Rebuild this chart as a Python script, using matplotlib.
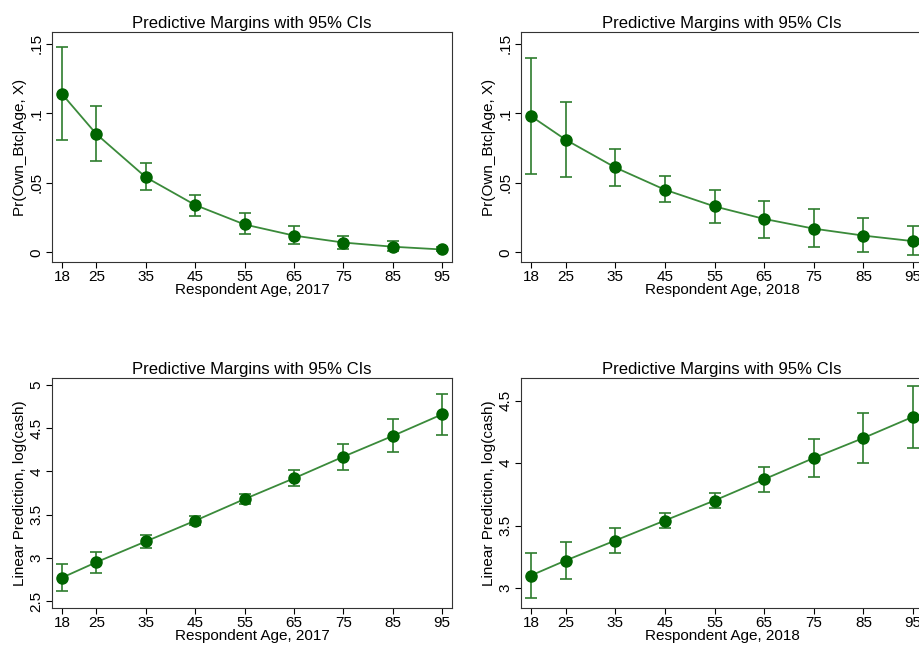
import matplotlib
matplotlib.use("Agg")
import matplotlib.pyplot as plt

plt.rcParams['font.family'] = ['Liberation Sans', 'DejaVu Sans']

ages = [18, 25, 35, 45, 55, 65, 75, 85, 95]
btc17 = [0.114, 0.085, 0.054, 0.034, 0.020, 0.012, 0.007, 0.004, 0.002]
btc17_lo = [0.081, 0.066, 0.045, 0.026, 0.013, 0.006, 0.002, 0.001, 0.001]
btc17_hi = [0.148, 0.105, 0.064, 0.041, 0.028, 0.019, 0.012, 0.008, 0.004]
btc18 = [0.098, 0.081, 0.061, 0.045, 0.033, 0.024, 0.017, 0.012, 0.008]
btc18_lo = [0.056, 0.054, 0.048, 0.036, 0.021, 0.010, 0.004, 0.000, -0.002]
btc18_hi = [0.140, 0.108, 0.074, 0.055, 0.045, 0.037, 0.031, 0.025, 0.019]
cash17 = [2.77, 2.95, 3.19, 3.43, 3.68, 3.92, 4.17, 4.41, 4.66]
cash17_lo = [2.62, 2.83, 3.11, 3.38, 3.62, 3.83, 4.02, 4.22, 4.42]
cash17_hi = [2.93, 3.07, 3.27, 3.48, 3.74, 4.02, 4.32, 4.61, 4.90]
cash18 = [3.10, 3.22, 3.38, 3.54, 3.70, 3.87, 4.04, 4.20, 4.37]
cash18_lo = [2.92, 3.07, 3.28, 3.48, 3.64, 3.77, 3.89, 4.00, 4.12]
cash18_hi = [3.28, 3.37, 3.48, 3.60, 3.76, 3.97, 4.19, 4.40, 4.62]

W, H = 920, 649
fig = plt.figure(figsize=(W/100, H/100), dpi=100)
fig.patch.set_facecolor('white')

def ax_at(l, t, r, b):
    return fig.add_axes([l/W, 1-b/H, (r-l)/W, (b-t)/H])

line_c = '#3a8a3a'
dot_c = '#006400'
err_c = '#2e7d2e'

panels = [
    ((52, 32, 452, 262), btc17, btc17_lo, btc17_hi, (-0.007, 0.1585), [0, 0.05, 0.1, 0.15], ['0', '.05', '.1', '.15'], 'Pr(Own_Btc|Age, X)', 'Respondent Age, 2017'),
    ((521, 32, 923, 262), btc18, btc18_lo, btc18_hi, (-0.007, 0.1585), [0, 0.05, 0.1, 0.15], ['0', '.05', '.1', '.15'], 'Pr(Own_Btc|Age, X)', 'Respondent Age, 2018'),
    ((52, 378, 452, 608), cash17, cash17_lo, cash17_hi, (2.42, 5.08), [2.5, 3, 3.5, 4, 4.5, 5], ['2.5', '3', '3.5', '4', '4.5', '5'], 'Linear Prediction, log(cash)', 'Respondent Age, 2017'),
    ((521, 378, 923, 608), cash18, cash18_lo, cash18_hi, (2.84, 4.68), [3, 3.5, 4, 4.5], ['3', '3.5', '4', '4.5'], 'Linear Prediction, log(cash)', 'Respondent Age, 2018'),
]

for box, y, lo, hi, ylim, yt, ytl, ylab, xlab in panels:
    ax = ax_at(*box)
    ax.plot(ages, y, color=line_c, lw=1.3, zorder=2)
    yerr = [[v - l for v, l in zip(y, lo)], [h - v for v, h in zip(y, hi)]]
    ax.errorbar(ages, y, yerr=yerr, fmt='none', ecolor=err_c, elinewidth=1.2, capsize=4, capthick=1.2, zorder=3)
    ax.plot(ages, y, 'o', color=dot_c, ms=8, zorder=4)
    ax.set_xlim(16, 97)
    ax.set_ylim(*ylim)
    ax.set_xticks(ages)
    ax.set_xticklabels([str(a) for a in ages], fontsize=11)
    ax.set_yticks(yt)
    ax.set_yticklabels(ytl, fontsize=11, rotation=90, va='center')
    ax.set_title('Predictive Margins with 95% CIs', fontsize=12, pad=3)
    ax.set_xlabel(xlab, fontsize=11, labelpad=-1)
    ax.set_ylabel(ylab, fontsize=11, labelpad=2)
    for s in ax.spines.values():
        s.set_color('#333333')
    ax.tick_params(length=4, pad=2)

fig.savefig('out.png', dpi=100)
